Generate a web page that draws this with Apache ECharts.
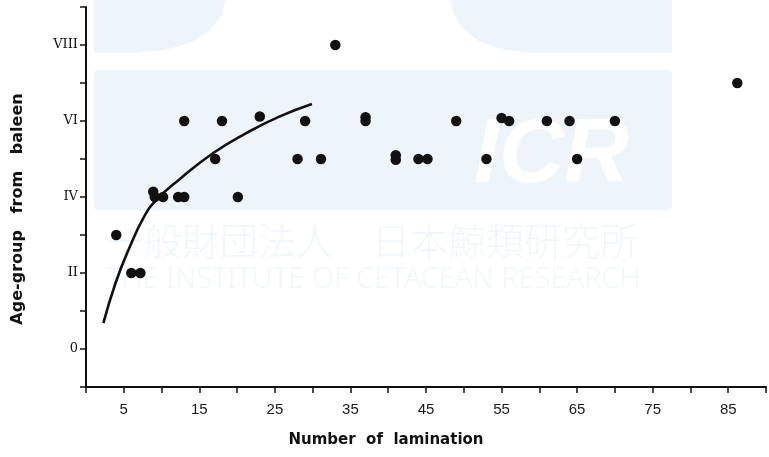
<!DOCTYPE html>
<html>
<head>
<meta charset="utf-8">
<script src="https://cdn.jsdelivr.net/npm/echarts/dist/echarts.min.js"></script>
<style>html,body{margin:0;padding:0;background:#fff;}#chart{width:769px;height:457px;}</style>
</head>
<body>
<div id="chart"></div>
<script>
// Observed points: number of lamination (x) vs age-group from baleen (y)
const laminationX = [4, 6, 7.2, 8.9, 9.1, 10.2, 12.2, 13, 20.1, 13, 18, 23, 29, 17.1, 28, 31.1, 33, 37, 37, 41, 41, 44, 45.2, 49, 53, 55, 56, 61, 64, 70, 65, 86.2];
const ageGroupY   = [3, 2, 2, 4.14, 4, 4, 4, 4, 4, 6, 6, 6.12, 6, 5, 5, 5, 8, 6.1, 6, 5.1, 4.98, 5, 5, 6, 5, 6.08, 6, 6, 6, 6, 5, 7];
// Fitted curve
const curveX = [2.3, 3.9, 5.6, 7.8, 9.3, 12.4, 16.8, 21.2, 25.5, 29.9];
const curveY = [0.68, 1.73, 2.6, 3.52, 3.92, 4.47, 5.15, 5.68, 6.11, 6.45];
// Tick labels
const yTickValues = [0, 2, 4, 6, 8];
const yTickLabels = ['0', 'II', 'IV', 'VI', 'VIII'];
const xTickValues = [5, 15, 25, 35, 45, 55, 65, 75, 85];

const scatterData = laminationX.map((x, i) => [x, ageGroupY[i]]);
const curveData = curveX.map((x, i) => [x, curveY[i]]);

const wm = '#eef5fa';
const wmText = '#f0f6fa';
const chart = echarts.init(document.getElementById('chart'), null, {renderer: 'canvas'});
chart.setOption({
  backgroundColor: '#ffffff',
  animation: false,
  graphic: [
    {type: 'polygon', z: -10, shape: {points: [[94,0],[226,0],[222,15],[210,30],[190,43],[165,50],[135,53],[94,53]]}, style: {fill: wm}},
    {type: 'polygon', z: -10, shape: {points: [[450,0],[672,0],[672,53],[533,53],[505,50],[480,42],[462,28],[453,13]]}, style: {fill: wm}},
    {type: 'rect', z: -10, shape: {x: 94, y: 70, width: 578, height: 140, r: 4}, style: {fill: wm}},
    {type: 'text', z: -9, left: 474, top: 112, style: {text: 'ICR', fill: '#ffffff', font: 'italic bold 90px "Liberation Sans"'}},
    {type: 'text', z: -9, left: 106, top: 222, style: {text: '一般財団法人　日本鯨類研究所', fill: wmText, font: '300 38px "Noto Sans CJK JP"'}},
    {type: 'text', z: -9, left: 106, top: 265, style: {text: 'THE INSTITUTE OF CETACEAN RESEARCH', fill: wmText, font: '300 29px "Noto Sans"'}},
    {type: 'text', z: 10, x: 18, y: 209, rotation: Math.PI / 2,
      style: {text: 'Age-group   from   baleen', fill: '#111', font: 'bold 16px "DejaVu Sans"', textAlign: 'center', textVerticalAlign: 'middle'}},
    {type: 'text', z: 10, x: 386, y: 440,
      style: {text: 'Number  of  lamination', fill: '#111', font: 'bold 15px "DejaVu Sans"', textAlign: 'center', textVerticalAlign: 'middle'}}
  ],
  grid: {left: 86, top: 7, width: 686, height: 380, containLabel: false},
  xAxis: {
    type: 'value', min: 0, max: 90, interval: 5,
    axisLine: {show: true, onZero: false, lineStyle: {color: '#111', width: 2}},
    axisTick: {show: true, length: 6, inside: false, lineStyle: {color: '#111', width: 1.5}},
    axisLabel: {
      margin: 15, color: '#1a1a1a', fontFamily: '"Liberation Sans Narrow", "Liberation Sans"', fontSize: 15,
      formatter: v => xTickValues.indexOf(v) >= 0 ? String(v) : ''
    },
    splitLine: {show: false}
  },
  yAxis: {
    type: 'value', min: -1, max: 9, interval: 1,
    axisLine: {show: true, onZero: false, lineStyle: {color: '#111', width: 2}},
    axisTick: {show: true, length: 6, inside: false, lineStyle: {color: '#111', width: 1.5}},
    axisLabel: {
      margin: 8, color: '#111', fontFamily: '"DejaVu Serif"', fontSize: 13,
      formatter: v => { const k = yTickValues.indexOf(v); return k >= 0 ? yTickLabels[k] : ''; }
    },
    splitLine: {show: false}
  },
  series: [
    {
      type: 'line', data: curveData, smooth: true, showSymbol: false, symbol: 'none',
      lineStyle: {color: '#111', width: 2.6}, z: 3
    },
    {
      type: 'scatter', data: scatterData, symbolSize: 10.5,
      itemStyle: {color: '#111', opacity: 1}, z: 4
    }
  ]
});
</script>
</body>
</html>
